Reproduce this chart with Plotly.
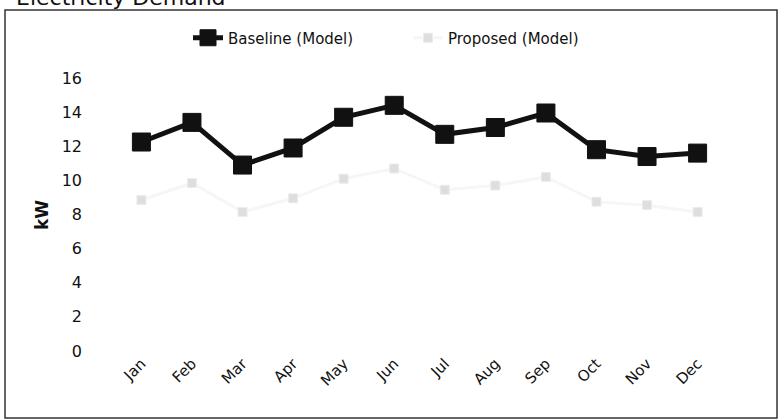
import plotly.graph_objects as go

# Monthly peak electricity demand (kW)
months = ["Jan", "Feb", "Mar", "Apr", "May", "Jun",
          "Jul", "Aug", "Sep", "Oct", "Nov", "Dec"]
baseline_kw = [12.25, 13.4, 10.9, 11.9, 13.7, 14.4, 12.7, 13.1, 13.95, 11.8, 11.4, 11.6]
proposed_kw = [8.85, 9.85, 8.15, 8.95, 10.1, 10.7, 9.45, 9.7, 10.2, 8.75, 8.55, 8.15]
y_ticks = [0, 2, 4, 6, 8, 10, 12, 14, 16]

W, H = 782, 420
FONT = "DejaVu Sans, Verdana, sans-serif"

# plot area in pixels
px_left, px_right = 98, 741
px_top, px_bottom = 69, 351

fig = go.Figure()
fig.add_trace(go.Scatter(
    x=months, y=baseline_kw, name="Baseline (Model)",
    mode="lines+markers",
    line=dict(color="#111111", width=5),
    marker=dict(symbol="square", size=18, color="#111111",
                line=dict(color="#111111", width=1)),
))
fig.add_trace(go.Scatter(
    x=months, y=proposed_kw, name="Proposed (Model)",
    mode="lines+markers",
    line=dict(color="#f6f6f6", width=3),
    marker=dict(symbol="square", size=9, color="#dedede",
                line=dict(color="#ececec", width=1)),
))

fig.update_layout(
    width=W, height=H,
    margin=dict(l=0, r=0, t=0, b=0),
    paper_bgcolor="white", plot_bgcolor="white",
    font=dict(family=FONT, size=15, color="#111111"),
    showlegend=True,
    legend=dict(
        orientation="h", x=188 / W, xanchor="left",
        y=1 - 38 / H, yanchor="middle",
        font=dict(family=FONT, size=15),
        entrywidth=175, entrywidthmode="pixels",
        bgcolor="rgba(0,0,0,0)",
    ),
    xaxis=dict(
        domain=[px_left / W, px_right / W],
        type="category",
        showgrid=False, zeroline=False, showline=False, ticks="",
        tickangle=-45, automargin=False,
        tickfont=dict(family=FONT, size=15),
    ),
    yaxis=dict(
        domain=[1 - px_bottom / H, 1 - px_top / H],
        range=[0, (px_bottom - px_top) / 17.06],
        tickvals=y_ticks,
        showgrid=False, zeroline=False, showline=False, ticks="",
        ticklabelstandoff=15, automargin=False,
        tickfont=dict(family=FONT, size=16),
    ),
    annotations=[
        dict(text="<b>kW</b>", xref="paper", yref="paper",
             x=42 / W, y=1 - 215 / H, xanchor="center", yanchor="middle",
             textangle=-90, showarrow=False,
             font=dict(family=FONT, size=17, color="#111111")),
        dict(text="Electricity Demand", xref="paper", yref="paper",
             x=14 / W, y=1, xanchor="left", yanchor="bottom", yshift=-12,
             showarrow=False,
             font=dict(family=FONT, size=22, color="#111111")),
    ],
    shapes=[
        dict(type="rect", xref="paper", yref="paper",
             x0=5 / W, x1=777 / W, y0=1 - 418 / H, y1=1 - 10 / H,
             line=dict(color="#333333", width=1.5), fillcolor="rgba(0,0,0,0)"),
    ],
)

fig.write_html("out.html")
